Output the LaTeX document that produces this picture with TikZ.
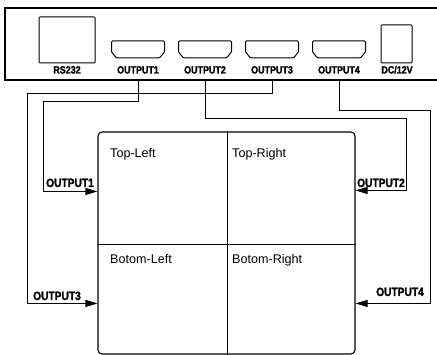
\documentclass[tikz,border=0pt]{standalone}
\usepackage{fontspec}
\setmainfont{Liberation Sans}
\newfontfamily\tagfont[FakeStretch=0.85,FakeBold=1.5]{Liberation Sans}
\usetikzlibrary{arrows.meta}

\begin{document}
\begin{tikzpicture}[x=1pt,y=-1pt,
  case/.style={draw,line width=1.2pt},
  jack/.style={draw,line width=1pt,rounded corners=1pt},
  tag/.style={font=\tagfont\bfseries\fontsize{10.5}{12}\selectfont,inner sep=0pt,anchor=base},
  feedtag/.style={font=\tagfont\bfseries\fontsize{12}{14}\selectfont,inner sep=0pt},
  quad/.style={font=\fontsize{12.6}{15}\selectfont,inner sep=0pt,anchor=base west},
  wire/.style={line width=0.9pt},
  feed/.style={wire,-{Triangle[length=12pt,width=7pt]}}]
\useasboundingbox (0,0) rectangle (437,355);
% Splitter box
\draw[case] (440,8) -- (5,8) -- (5,80) -- (440,80);
\node[jack,minimum width=56pt,minimum height=46pt] (rs) at (67,40) {};
\node[tag] (rslabel) at (67,73.5) {RS232};
\node[jack,minimum width=31pt,minimum height=38pt] (dc) at (396.5,44) {};
\node[tag] (dclabel) at (397,73.5) {DC/12V};
% HDMI outputs
\foreach \i/\x in {1/138,2/205,3/272,4/339}{
  \draw[jack] (\x-26.5,41) -- (\x+26.5,41) -- (\x+26.5,52) -- (\x+21.5,58)
    -- (\x-21.5,58) -- (\x-26.5,52) -- cycle;
  \node[tag] (out\i) at (\x,73.5) {OUTPUT\i};
  \coordinate (s\i) at (\x,80);
}
% Video wall
\node[draw,line width=1.1pt,rounded corners=4pt,minimum width=257pt,
  minimum height=222pt,inner sep=0pt] (wall) at (226.5,243) {};
\draw[wire] ([xshift=0.5pt]wall.north) -- ([xshift=0.5pt]wall.south);
\draw[wire] ([yshift=-1pt]wall.west) -- ([yshift=-1pt]wall.east);
\node[quad] (tl) at (110,158) {Top-Left};
\node[quad] (tr) at (232,158) {Top-Right};
\node[quad] (bl) at (110,264) {Botom-Left};
\node[quad] (br) at (232,264) {Botom-Right};
% Inputs on the wall
\coordinate (in1) at ([yshift=-60pt]wall.north west);
\coordinate (in2) at ([yshift=-59pt]wall.north east);
\coordinate (in3) at ([yshift=-172pt]wall.north west);
\coordinate (in4) at ([yshift=-172pt]wall.north east);
% Cables
\draw[feed] (s1) |- (43,101) |- (in1);
\draw[feed] (s2) |- (406,118) |- (in2);
\draw[feed] (s3) |- (27,93) |- (in3);
\draw[feed] (s4) |- (430,110) |- (in4);
\node[feedtag,anchor=base west] (t1) at (46,187) {OUTPUT1};
\node[feedtag,anchor=base east] (t2) at (405,187) {OUTPUT2};
\node[feedtag,anchor=base west] (t3) at (33,300) {OUTPUT3};
\node[feedtag,anchor=base east] (t4) at (424,296) {OUTPUT4};
\end{tikzpicture}
\end{document}
